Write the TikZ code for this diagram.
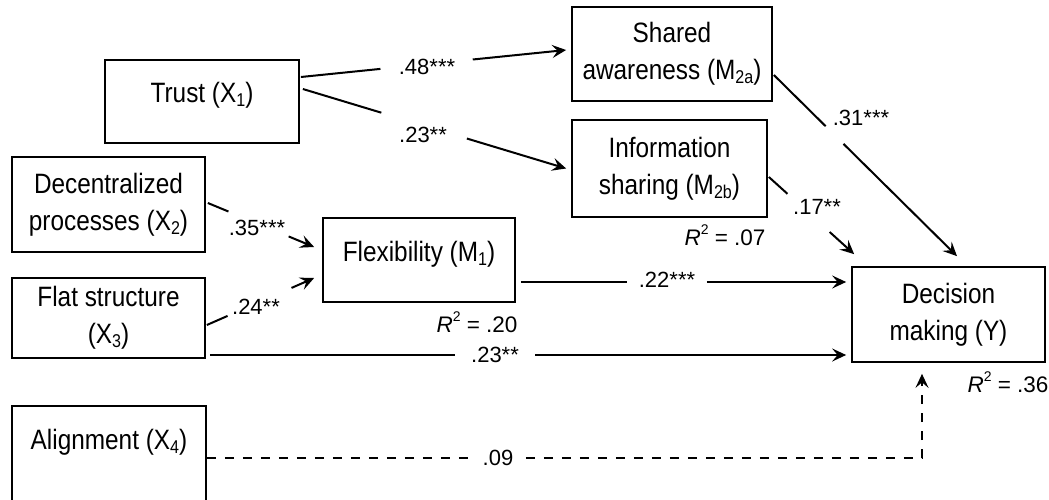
\documentclass[tikz,border=0pt]{standalone}
\usepackage{fontspec}
\setmainfont{Liberation Sans}
\newfontfamily\boxfont{Liberation Sans}[FakeStretch=0.87]
\usetikzlibrary{arrows.meta,calc}

% subscripts, R-squared and a text lift that keeps the box size
\newcommand\sub[1]{\raisebox{-4pt}{\fontsize{18.5}{18.5}\selectfont #1}}
\newcommand\rsq[1]{{\itshape R}\raisebox{11pt}{\fontsize{14}{14}\selectfont 2} = #1}
\newcommand\lift[2]{\raisebox{#1}[\height][\depth]{#2}}
% a connector with a gap left open for its coefficient
\newcommand\gapline[5][]{\draw[#1] (#2) -- ($(#2)!#4!(#3)$) ($(#2)!#5!(#3)$) -- (#3);}

\begin{document}
\begin{tikzpicture}[x=1pt,y=-1pt,
  box/.style={draw,line width=1.7pt,rectangle,align=center,inner sep=0pt,
    font=\boxfont\fontsize{28}{37}\selectfont},
  coef/.style={inner sep=0pt,font=\fontsize{22}{26}\selectfont},
  rlabel/.style={inner sep=0pt,font=\fontsize{22.5}{26}\selectfont},
  arr/.style={line width=2pt,-{Stealth[length=14pt,width=13pt,inset=5.5pt]}},
  dashedarr/.style={arr,dash pattern=on 9pt off 9pt}]
\useasboundingbox (0,0) rectangle (1049,500);

% variables
\node[box,minimum width=194pt,minimum height=83pt] (trust) at (202,101.5) {\lift{6pt}{Trust (X\sub{1})}};
\node[box,minimum width=200pt,minimum height=94pt] (shared) at (672,54) {Shared\\awareness (M\sub{2a})};
\node[box,minimum width=195pt,minimum height=97pt] (info) at (669.5,168.5) {Information\\sharing (M\sub{2b})};
\node[box,minimum width=193pt,minimum height=95pt] (decent) at (108.5,204.5) {Decentralized\\processes (X\sub{2})};
\node[box,minimum width=193pt,minimum height=80pt] (flat) at (108.5,318) {Flat structure\\(X\sub{3})};
\node[box,minimum width=192pt,minimum height=84pt] (flex) at (419,260) {\lift{6pt}{Flexibility (M\sub{1})}};
\node[box,minimum width=193pt,minimum height=95pt] (dec) at (948.5,314.5) {Decision\\making (Y)};
\node[box,minimum width=194pt,minimum height=96pt] (align) at (109,454) {\lift{12pt}{Alignment (X\sub{4})}};

% paths
\gapline[arr]{[xshift=1pt,yshift=24.5pt]trust.east}{[xshift=-5pt,yshift=4pt]shared.west}{0.30}{0.648}
\gapline[arr]{[xshift=3pt,yshift=12.5pt]trust.east}{[xshift=-5pt]info.west}{0.298}{0.623}
\gapline[arr]{[xshift=2pt,yshift=1.5pt]decent.east}{[xshift=-8pt,yshift=13pt]flex.west}{0.194}{0.76}
\gapline[arr]{[xshift=1pt,yshift=-7pt]flat.east}{[xshift=-8pt,yshift=-18pt]flex.west}{0.193}{0.789}
\gapline[arr]{[xshift=5pt,yshift=-22pt]flex.east}{[xshift=-5pt,yshift=32.5pt]dec.west}{0.327}{0.572}
\gapline[arr]{[xshift=4pt,yshift=-37pt]flat.east}{[xshift=-5pt,yshift=-40.5pt]dec.west}{0.386}{0.511}
\gapline[arr]{[xshift=1pt,yshift=-21pt]shared.east}{[xshift=8.5pt,yshift=10pt]dec.north}{0.283}{0.38}
\gapline[arr]{[xshift=1pt,yshift=-8.5pt]info.east}{[xshift=3pt,yshift=12pt]dec.north west}{0.218}{0.713}
\draw[dashedarr] ([yshift=-4pt]align.east) -- +(264,0) ++(319,0) -| ([xshift=-26.5pt,yshift=-11pt]dec.south);

% coefficients
\node[coef] (c48) at (427,67) {.48***};
\node[coef] (c23a) at (423,135) {.23**};
\node[coef] (c35) at (257,228) {.35***};
\node[coef] (c24) at (256,307) {.24**};
\node[coef] (c22) at (667,280) {.22***};
\node[coef] (c23b) at (495,355) {.23**};
\node[coef] (c31) at (861,118) {.31***};
\node[coef] (c17) at (817,207) {.17**};
\node[coef] (c09) at (498,458) {.09};

% explained variance
\node[rlabel] (r07) at (725,235) {\rsq{.07}};
\node[rlabel] (r20) at (477,322) {\rsq{.20}};
\node[rlabel] (r36) at (1008,382) {\rsq{.36}};
\end{tikzpicture}
\end{document}
